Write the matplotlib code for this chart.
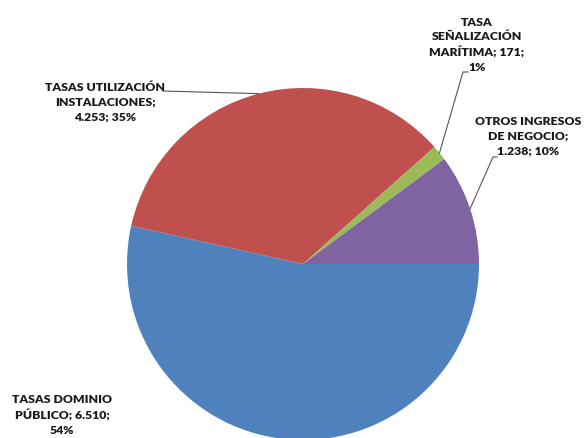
#!/usr/bin/env python3
"""Pie of revenue split by concept (tasas / otros ingresos)."""
import numpy as np
import matplotlib
matplotlib.use("Agg")  # headless
import matplotlib.pyplot as plt  # noqa: E402

# data, in drawing order (clockwise from 3 o'clock)
categories = ["TASAS DOMINIO\nPÚBLICO", "TASAS UTILIZACIÓN\nINSTALACIONES",
              "TASA\nSEÑALIZACIÓN\nMARÍTIMA", "OTROS INGRESOS\nDE NEGOCIO"]
values = [6510, 4253, 171, 1238]
value_labels = ["6.510", "4.253", "171", "1.238"]
pct_labels = ["54%", "35%", "1%", "10%"]
colors = ["#4F81BD", "#C0504D", "#9BBB59", "#8064A2"]

W, H = 587, 439
CX, CY, R = 303, 265, 176   # pie centre / radius in image pixels (y down)


def px(x, y):
    """image pixel (y down) -> pie data coords (radius 1)."""
    return (x - CX) / R, (CY - y) / R


def main():
    plt.rcParams["font.family"] = ["Lato", "DejaVu Sans"]
    fig = plt.figure(figsize=(W / 100, H / 100), dpi=100)
    ax = fig.add_axes([(CX - R) / W, (H - CY - R) / H, 2 * R / W, 2 * R / H])
    wedges, _ = ax.pie(values, colors=colors, startangle=0, counterclock=False,
                       radius=1, wedgeprops=dict(linewidth=0))
    ax.set_xlim(-1, 1)
    ax.set_ylim(-1, 1)
    ax.set_aspect("equal")
    ax.axis("off")

    texts = [
        f"TASAS DOMINIO\nPÚBLICO; {value_labels[0]};\n{pct_labels[0]}",
        f"{categories[1]};\n{value_labels[1]}; {pct_labels[1]}",
        f"{categories[2]}; {value_labels[2]};\n{pct_labels[2]}",
        f"{categories[3]};\n{value_labels[3]}; {pct_labels[3]}",
    ]
    label_pos = [(62, 415), (105, 102), (477, 45), (528, 136)]
    # where the leader line leaves the label (None = no leader)
    anchors = [None, [(163, 92)], [(468, 73), (463, 73)], [(497, 158), (493, 158)]]

    for w, txt, pos, anc in zip(wedges, texts, label_pos, anchors):
        tx, ty = px(*pos)
        ax.text(tx, ty, txt, ha="center", va="center", fontsize=8.8,
                fontweight="heavy", color="#1a1a1a", linespacing=1.4,
                clip_on=False)
        if anc is None:
            continue
        mid = np.deg2rad((w.theta1 + w.theta2) / 2)
        pts = [px(*p) for p in anc] + [(np.cos(mid), np.sin(mid))]
        xs, ys = zip(*pts)
        ax.plot(xs, ys, color="#555555", lw=0.8, clip_on=False)

    fig.savefig("out.png", dpi=100)
    plt.close(fig)


if __name__ == "__main__":
    main()
